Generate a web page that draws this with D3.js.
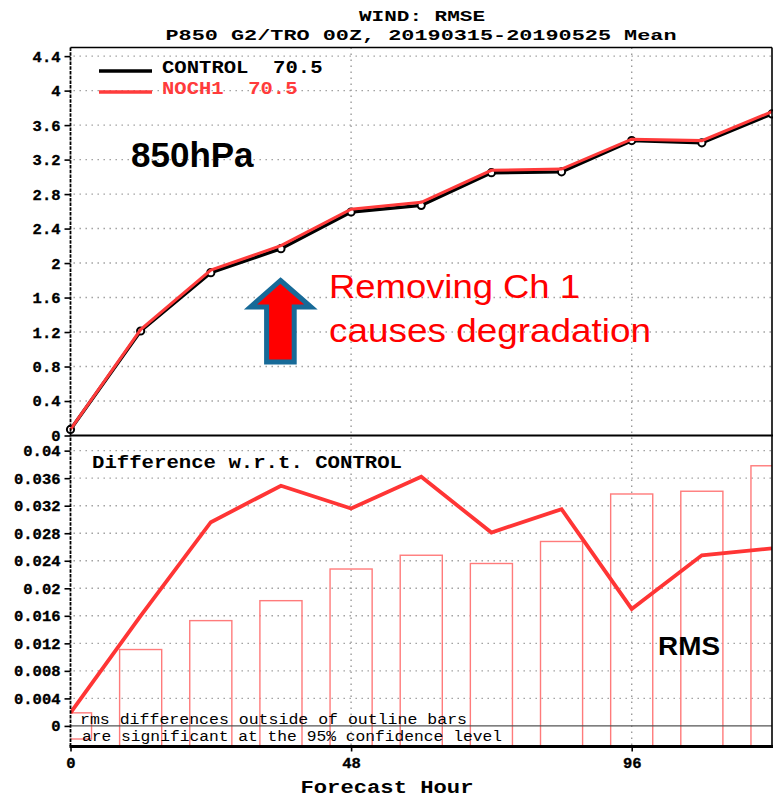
<!DOCTYPE html>
<html>
<head>
<meta charset="utf-8">
<script src="https://cdn.jsdelivr.net/npm/d3@7"></script>
<style>
  html, body { margin: 0; padding: 0; background: #fff; }
  svg { display: block; }
</style>
</head>
<body>
<div id="chart"></div>
<script>
// Forecast hours (x axis)
const hours = [0, 12, 24, 36, 48, 60, 72, 84, 96, 108, 120];
// Wind RMSE at 850 hPa, tropics
const control = [0.07, 1.212, 1.889, 2.167, 2.592, 2.669, 3.048, 3.058, 3.420, 3.395, 3.730];
const noch1   = [0.072, 1.228, 1.919, 2.202, 2.624, 2.705, 3.076, 3.090, 3.437, 3.420, 3.756];
// NOCH1 minus CONTROL
const diff    = [0.0019, 0.0160, 0.0296, 0.0349, 0.0316, 0.0362, 0.0281, 0.0315, 0.0170, 0.0248, 0.0258];
// 95% significance thresholds (outline bars)
const signif  = [0.0019, 0.0111, 0.0153, 0.0182, 0.0228, 0.0248, 0.0236, 0.0268, 0.0337, 0.0341, 0.0378];

const topTicks = [0, 0.4, 0.8, 1.2, 1.6, 2, 2.4, 2.8, 3.2, 3.6, 4, 4.4];
const botTicks = [0, 0.004, 0.008, 0.012, 0.016, 0.02, 0.024, 0.028, 0.032, 0.036, 0.04];
const xTicks = [0, 48, 96];
const xGrid = [48, 96];

const legendItems = [
  { name: "CONTROL", score: "70.5", color: "#000000" },
  { name: "NOCH1", score: "70.5", color: "#ff3b3b" }
];

const W = 773, H = 796;
const L = 70.5, R = 772;
const topY0 = 47.5, midY = 435.5, botY1 = 746.5;

const svg = d3.select("#chart").append("svg").attr("width", W).attr("height", H);

const x = d3.scaleLinear().domain([0, 120]).range([L, R]);
const yTop = d3.scaleLinear().domain([0, 4.5]).range([midY, topY0]);
const yBot = d3.scaleLinear().domain([-0.00299, 0.0422]).range([botY1, midY]);

const mono = "'Liberation Mono', 'Courier New', monospace";
const sans = "'Liberation Sans', Arial, sans-serif";
const gridColor = "#9a9a9a";

// clip region for the lower panel
svg.append("clipPath").attr("id", "clipBot")
  .append("rect").attr("x", L).attr("y", midY).attr("width", R - L).attr("height", botY1 - midY);

// ---------- grid ----------
const grid = svg.append("g").attr("stroke", gridColor).attr("stroke-width", 1.4)
  .attr("stroke-dasharray", "1.4,4.6").attr("fill", "none");
grid.selectAll("line.ht").data(topTicks.filter(d => d > 0)).join("line")
  .attr("x1", L + 3).attr("x2", R).attr("y1", d => yTop(d)).attr("y2", d => yTop(d));
grid.selectAll("line.hb").data(botTicks.filter(d => d > 0)).join("line")
  .attr("class", "hb")
  .attr("x1", L + 3).attr("x2", R).attr("y1", d => yBot(d)).attr("y2", d => yBot(d));
grid.selectAll("line.v").data(xGrid).join("line")
  .attr("class", "v")
  .attr("x1", d => x(d)).attr("x2", d => x(d)).attr("y1", topY0).attr("y2", botY1);

// ---------- lower panel: significance bars ----------
const barHalf = 3.6; // hours
svg.append("g").attr("clip-path", "url(#clipBot)")
  .selectAll("rect").data(hours.map((h, i) => ({ h, v: signif[i] }))).join("rect")
  .attr("x", d => x(d.h - barHalf)).attr("width", d => x(d.h + barHalf) - x(d.h - barHalf))
  .attr("y", d => yBot(d.v)).attr("height", d => yBot(-d.v) - yBot(d.v))
  .attr("fill", "none").attr("stroke", "#ff7b7b").attr("stroke-width", 1.4);

// zero line of the difference panel
svg.append("line").attr("x1", L).attr("x2", R).attr("y1", yBot(0)).attr("y2", yBot(0))
  .attr("stroke", "#555").attr("stroke-width", 1.2);

// difference line
svg.append("path").datum(hours.map((h, i) => [h, diff[i]]))
  .attr("clip-path", "url(#clipBot)")
  .attr("d", d3.line().x(d => x(d[0])).y(d => yBot(d[1])))
  .attr("fill", "none").attr("stroke", "#ff3535").attr("stroke-width", 3.8)
  .attr("stroke-linejoin", "miter");

// ---------- upper panel: RMSE curves ----------
const lineTop = d3.line().x(d => x(d[0])).y(d => yTop(d[1]));
svg.append("path").datum(hours.map((h, i) => [h, control[i]]))
  .attr("d", lineTop).attr("fill", "none").attr("stroke", "#000").attr("stroke-width", 3.4);
svg.append("g").selectAll("circle").data(hours.map((h, i) => [h, control[i]])).join("circle")
  .attr("cx", d => x(d[0])).attr("cy", d => yTop(d[1])).attr("r", 3.6)
  .attr("fill", "#fff").attr("stroke", "#000").attr("stroke-width", 2);
svg.append("path").datum(hours.map((h, i) => [h, noch1[i]]))
  .attr("d", lineTop).attr("fill", "none").attr("stroke", "#ff3b3b").attr("stroke-width", 3);

// ---------- frame ----------
const frame = svg.append("g").attr("stroke", "#000").attr("fill", "none");
frame.append("line").attr("x1", L).attr("x2", R).attr("y1", topY0).attr("y2", topY0).attr("stroke-width", 1.6);
frame.append("line").attr("x1", R).attr("x2", R).attr("y1", topY0).attr("y2", botY1).attr("stroke-width", 1.6);
frame.append("line").attr("x1", L).attr("x2", R + 1).attr("y1", midY).attr("y2", midY).attr("stroke-width", 2.2);
frame.append("line").attr("x1", L - 1).attr("x2", R + 1).attr("y1", botY1).attr("y2", botY1).attr("stroke-width", 3);
frame.append("line").attr("x1", L).attr("x2", L).attr("y1", topY0).attr("y2", botY1)
  .attr("stroke-width", 1.8).attr("stroke-dasharray", "3.5,1.2");

// ---------- axes ----------
function styleAxis(g) {
  g.select(".domain").remove();
  g.selectAll(".tick line").attr("stroke", "#000").attr("stroke-width", 1.6);
  g.selectAll(".tick text").attr("font-family", mono).attr("font-weight", "bold")
    .attr("font-size", 15.5).attr("fill", "#000")
    .attr("stroke", "#000").attr("stroke-width", 0.35);
}
const fmt = d => String(+d.toFixed(4));
svg.append("g").attr("transform", `translate(${L},0)`)
  .call(d3.axisLeft(yTop).tickValues(topTicks).tickFormat(fmt).tickSize(6).tickPadding(4))
  .call(styleAxis);
svg.append("g").attr("transform", `translate(${L},0)`)
  .call(d3.axisLeft(yBot).tickValues(botTicks).tickFormat(fmt).tickSize(6).tickPadding(4))
  .call(styleAxis);
svg.append("g").attr("transform", `translate(0,${botY1})`)
  .call(d3.axisBottom(x).tickValues(xTicks).tickFormat(d3.format("d")).tickSize(5).tickPadding(5))
  .call(styleAxis);

// ---------- titles ----------
const titleFont = { family: mono, size: 15.5 };
svg.append("text").attr("x", 422).attr("y", 20.5).attr("text-anchor", "middle")
  .attr("font-family", titleFont.family).attr("font-size", titleFont.size).attr("font-weight", "bold")
  .attr("textLength", 126).attr("lengthAdjust", "spacingAndGlyphs")
  .text("WIND: RMSE");
svg.append("text").attr("x", 421).attr("y", 40).attr("text-anchor", "middle")
  .attr("font-family", titleFont.family).attr("font-size", titleFont.size).attr("font-weight", "bold")
  .attr("textLength", 511).attr("lengthAdjust", "spacingAndGlyphs")
  .text("P850 G2/TRO 00Z, 20190315-20190525 Mean");

svg.append("text").attr("x", 387).attr("y", 792.5)
  .attr("text-anchor", "middle").attr("font-family", mono).attr("font-weight", "bold")
  .attr("font-size", 18).attr("textLength", 173).attr("lengthAdjust", "spacingAndGlyphs")
  .text("Forecast Hour");

// ---------- legend ----------
const leg = svg.append("g");
legendItems.forEach((d, i) => {
  const ly = 71 + i * 21;
  leg.append("line").attr("x1", 99).attr("x2", 152).attr("y1", ly).attr("y2", ly)
    .attr("stroke", d.color).attr("stroke-width", 3.4);
  leg.append("text").attr("x", 162).attr("y", ly + 1.5)
    .attr("font-family", mono).attr("font-weight", "bold").attr("font-size", 17.5)
    .attr("fill", d.color)
    .attr("textLength", (d.name.length + 2 + d.score.length) * 12.5 - 2).attr("lengthAdjust", "spacingAndGlyphs")
    .attr("xml:space", "preserve")
    .text(d.name + "  " + d.score);
});

// ---------- lower panel labels ----------
svg.append("text").attr("x", 92).attr("y", 467.5)
  .attr("font-family", mono).attr("font-weight", "bold").attr("font-size", 17.5)
  .attr("textLength", 310).attr("lengthAdjust", "spacingAndGlyphs")
  .text("Difference w.r.t. CONTROL");
svg.append("text").attr("x", 80).attr("y", 724)
  .attr("font-family", mono).attr("font-size", 14)
  .attr("textLength", 387).attr("lengthAdjust", "spacingAndGlyphs")
  .text("rms differences outside of outline bars");
svg.append("text").attr("x", 82).attr("y", 740.5)
  .attr("font-family", mono).attr("font-size", 14)
  .attr("textLength", 420).attr("lengthAdjust", "spacingAndGlyphs")
  .text("are significant at the 95% confidence level");

// ---------- annotations ----------
svg.append("text").attr("x", 131).attr("y", 167)
  .attr("font-family", sans).attr("font-weight", "bold").attr("font-size", 35)
  .text("850hPa");

svg.append("text").attr("x", 658).attr("y", 655)
  .attr("font-family", sans).attr("font-weight", "bold").attr("font-size", 25.5)
  .attr("textLength", 62).attr("lengthAdjust", "spacingAndGlyphs")
  .text("RMS");

svg.append("text").attr("x", 329).attr("y", 298)
  .attr("font-family", sans).attr("font-size", 34).attr("fill", "#ff0000")
  .attr("textLength", 251).attr("lengthAdjust", "spacingAndGlyphs")
  .text("Removing Ch 1");
svg.append("text").attr("x", 329).attr("y", 341.5)
  .attr("font-family", sans).attr("font-size", 34).attr("fill", "#ff0000")
  .attr("textLength", 322).attr("lengthAdjust", "spacingAndGlyphs")
  .text("causes degradation");

// block arrow pointing up
const arrowPts = [[280.5, 280.5], [311, 307], [294.2, 307], [294.2, 362], [266.6, 362], [266.6, 307], [250.5, 307]];
svg.append("path").attr("d", d3.line()(arrowPts) + "Z")
  .attr("fill", "#ff0000").attr("stroke", "#176a98").attr("stroke-width", 5)
  .attr("stroke-linejoin", "miter");
</script>
</body>
</html>
